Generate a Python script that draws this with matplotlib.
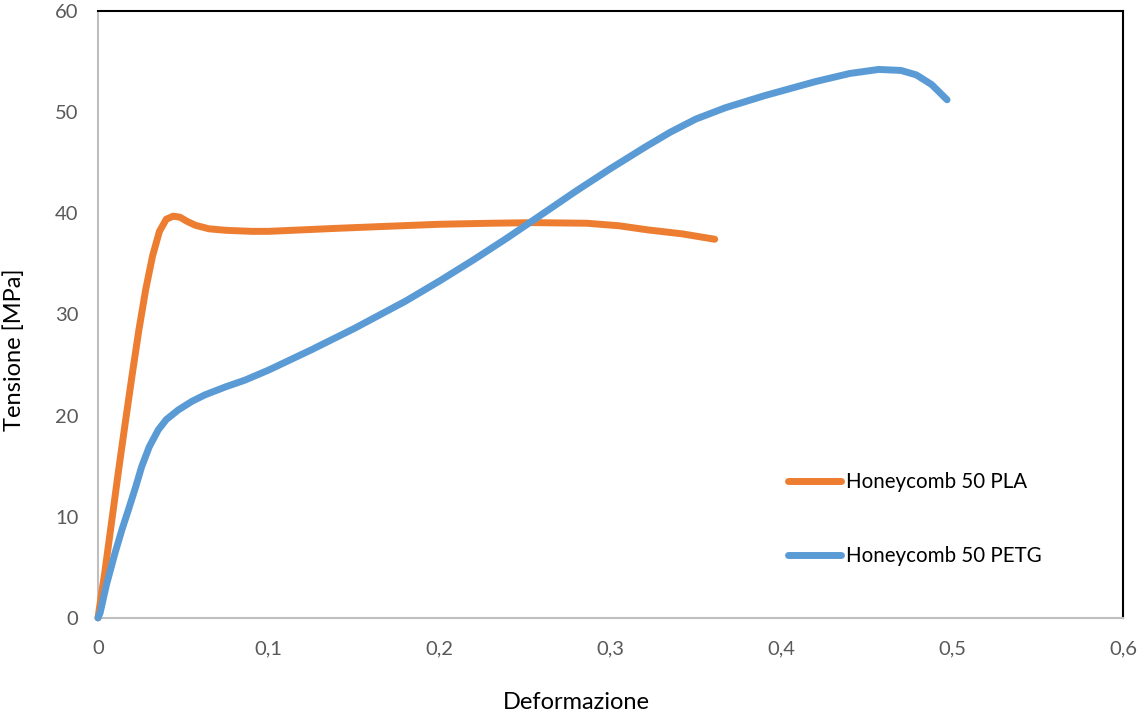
import numpy as np
import matplotlib.pyplot as plt

plt.rcParams['font.family'] = ['Lato', 'DejaVu Sans']

# Honeycomb 50 PLA: deformazione / tensione [MPa]
pla_x = [0.0, 0.004, 0.008, 0.012, 0.016, 0.020, 0.024, 0.028, 0.032, 0.036,
         0.040, 0.0441, 0.048, 0.052, 0.057, 0.065, 0.075, 0.090, 0.100, 0.120,
         0.140, 0.165, 0.200, 0.230, 0.2549, 0.2862, 0.305, 0.322, 0.342, 0.361]
pla_y = [0.0, 4.5, 9.5, 14.5, 19.3, 24.0, 28.5, 32.5, 35.8, 38.2,
         39.4, 39.7, 39.6, 39.2, 38.8, 38.45, 38.3, 38.2, 38.2, 38.35,
         38.5, 38.67, 38.9, 39.0, 39.06, 39.0, 38.75, 38.34, 37.95, 37.42]

# Honeycomb 50 PETG
petg_x = [0.0, 0.0012, 0.005, 0.00995, 0.014, 0.0178, 0.022, 0.0256, 0.030,
          0.0353, 0.040, 0.047, 0.055, 0.0626, 0.075, 0.0861, 0.100, 0.125,
          0.150, 0.180, 0.200, 0.220, 0.240, 0.260, 0.280, 0.300, 0.320, 0.335,
          0.350, 0.367, 0.390, 0.420, 0.440, 0.457, 0.470, 0.479, 0.488, 0.497]
petg_y = [0.0, 0.46, 3.3, 6.39, 8.7, 10.67, 12.9, 14.95, 16.9,
          18.58, 19.6, 20.55, 21.4, 22.04, 22.85, 23.5, 24.5, 26.5,
          28.6, 31.3, 33.3, 35.4, 37.6, 39.9, 42.2, 44.4, 46.5, 48.0,
          49.3, 50.4, 51.6, 53.0, 53.8, 54.2, 54.1, 53.66, 52.7, 51.2]

x_ticks = [0, 0.1, 0.2, 0.3, 0.4, 0.5, 0.6]
y_ticks = [0, 10, 20, 30, 40, 50, 60]

fig = plt.figure(figsize=(11.39, 7.16), dpi=100)
ax = fig.add_axes([0.086, 0.137, 0.9, 0.848])

ax.plot(pla_x, pla_y, color='#ED7D31', lw=5, solid_capstyle='round',
        solid_joinstyle='round', label='Honeycomb 50 PLA', clip_on=False, zorder=3)
ax.plot(petg_x, petg_y, color='#5B9BD5', lw=5, solid_capstyle='round',
        solid_joinstyle='round', label='Honeycomb 50 PETG', clip_on=False, zorder=3)

ax.set_xlim(0, 0.6)
ax.set_ylim(0, 60)
ax.set_xticks(x_ticks)
ax.set_yticks(y_ticks)
ax.set_xticklabels([f'{t:g}'.replace('.', ',') for t in x_ticks])
ax.set_yticklabels([str(t) for t in y_ticks])
ax.tick_params(length=0, labelsize=14.5, labelcolor='#595959')
ax.tick_params(axis='x', pad=16)
ax.tick_params(axis='y', pad=14)

for side in ['left', 'bottom']:
    ax.spines[side].set_color('#BFBFBF')
    ax.spines[side].set_linewidth(1.5)
for side in ['top', 'right']:
    ax.spines[side].set_color('black')
    ax.spines[side].set_linewidth(1.5)

ax.set_xlabel('Deformazione', fontsize=17)
ax.set_ylabel('Tensione [MPa]', fontsize=17)
ax.xaxis.set_label_coords(0.467, -0.122)
ax.yaxis.set_label_coords(-0.071, 0.4415)

ax.legend(loc='upper left', bbox_to_anchor=(0.655, 0.27), frameon=False,
          fontsize=14.8, handlelength=2.6, handletextpad=0.25, labelspacing=2.6)

fig.savefig('out.png', dpi=100)
